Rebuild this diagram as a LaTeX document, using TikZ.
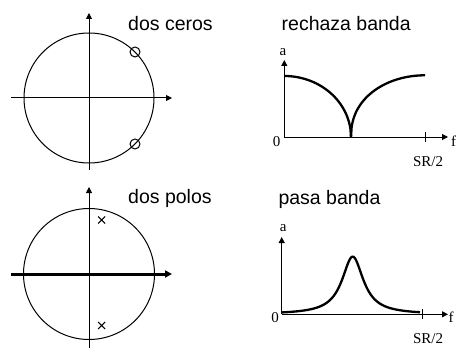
\documentclass[tikz,border=0pt]{standalone}
\usepackage{fontspec}
\setmainfont{Liberation Serif}
\newfontfamily\sansf{Liberation Sans}
\usetikzlibrary{arrows.meta}
\tikzset{
  ax/.style={line width=1pt,-{Triangle[length=6pt,width=6pt]}},
  ring/.style={line width=1pt},
  curve/.style={line width=2.3pt,line join=round},
  title/.style={anchor=base west,inner sep=0pt,font=\sansf\fontsize{19.5}{22}\selectfont},
  lab/.style={inner sep=0pt,font=\fontsize{15}{17}\selectfont},
  zero/.style={circle,draw,line width=1pt,minimum size=10pt,inner sep=0pt},
}
\begin{document}
\begin{tikzpicture}[x=1pt,y=-1pt]
\useasboundingbox (0,0) rectangle (457,350);
% ---------- top left: two zeros ----------
\coordinate (c1) at (89,98);
\draw[ring] (c1) circle (65);
\coordinate (h1a) at (11,98); \coordinate (h1b) at (172,98);
\coordinate (v1a) at (89,170); \coordinate (v1b) at (89,13);
\draw[ax] (h1a) -- (h1b);
\draw[ax] (v1a) -- (v1b);
\node[zero] (z1) at (135,52) {};
\node[zero] (z2) at (135,144) {};
\node[title] (t1) at (128,30.5) {dos ceros};
% ---------- top right: band reject ----------
\coordinate (o2) at (284.3,137);
\coordinate (ya2) at (284.3,60); \coordinate (xa2) at (448,137);
\draw[ax] (o2) -- (ya2);
\draw[ax] (o2) -- (xa2);
\draw[line width=1pt] (425,132) -- (425,142);
\draw[curve] plot[domain=284.3:351,samples=120] (\x,{137-61*sqrt(max(0,1-((\x-284.3)/66.7)^2))});
\draw[curve] plot[domain=351:425,samples=120] (\x,{137-61.7*(max(0,1-((425-\x)/74)^2))^0.45});
\node[lab] (a2) at (283,52) {a};
\node[lab] (n2) at (276.5,141.5) {0};
\node[lab] (f2) at (453.5,141) {f};
\node[lab] (s2) at (428,162) {SR/2};
\node[title] (t2) at (281.5,30.5) {rechaza banda};
% ---------- bottom left: two poles ----------
\coordinate (c3) at (89,274);
\draw[ring] (c3) circle (65.5);
\coordinate (h3a) at (11,274); \coordinate (h3b) at (172,274);
\coordinate (v3a) at (89,348); \coordinate (v3b) at (89,187);
\draw[line width=3pt,-{Triangle[length=7pt,width=7pt]}] (h3a) -- (h3b);
\draw[ax] (v3a) -- (v3b);
\coordinate (p1) at (101.7,220); \coordinate (p2) at (101.7,325.5);
\draw[line width=1pt] ([shift={(-3.5,-3.5)}]p1) -- ([shift={(3.5,3.5)}]p1)
                      ([shift={(-3.5,3.5)}]p1) -- ([shift={(3.5,-3.5)}]p1);
\draw[line width=1pt] ([shift={(-3.5,-3.5)}]p2) -- ([shift={(3.5,3.5)}]p2)
                      ([shift={(-3.5,3.5)}]p2) -- ([shift={(3.5,-3.5)}]p2);
\node[title] (t3) at (128,203) {dos polos};
% ---------- bottom right: band pass ----------
\coordinate (o4) at (281.7,314.3);
\coordinate (ya4) at (281.7,237); \coordinate (xa4) at (448,314.3);
\draw[ax] (o4) -- (ya4);
\draw[ax] (o4) -- (xa4);
\draw[line width=1pt] (422.7,309.3) -- (422.7,319.3);
\draw[curve] plot[domain=281.7:420,samples=160] (\x,{314.3-57.7/(1+((\x-352.7)/13)^2)});
\node[lab] (a4) at (283.3,228.5) {a};
\node[lab] (n4) at (275,318) {0};
\node[lab] (f4) at (451,317.5) {f};
\node[lab] (s4) at (428,338.5) {SR/2};
\node[title] (t4) at (278.3,204) {pasa banda};
\end{tikzpicture}
\end{document}
